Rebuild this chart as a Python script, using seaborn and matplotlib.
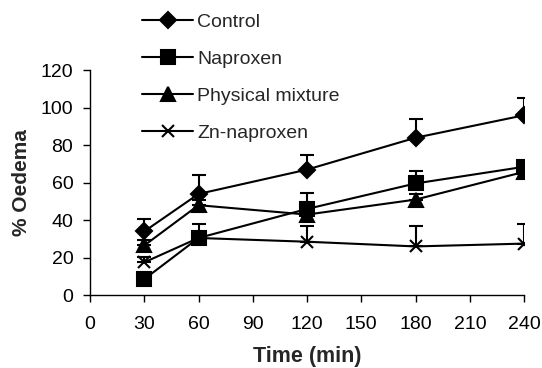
import numpy as np
import pandas as pd
import matplotlib
matplotlib.use("Agg")
import matplotlib.pyplot as plt
import seaborn as sns
from matplotlib.lines import Line2D

times = [30, 60, 120, 180, 240]
series_names = ["Control", "Naproxen", "Physical mixture", "Zn-naproxen"]
control = [34, 54, 67, 84, 96]
control_err = [6.5, 10, 8, 10, 9]
naproxen = [8.5, 30.5, 46, 59.6, 68.5]
naproxen_err = [2, 7.5, 8.5, 6.5, 2]
physical = [26.5, 48, 43, 51, 65.8]
physical_err = [3, 3, 3, 3, 2]
zn = [17.5, 30.5, 28.5, 26, 27.5]
zn_err = [3, 2, 8.5, 11, 10.5]
x_ticks = [0, 30, 60, 90, 120, 150, 180, 210, 240]
y_ticks = [0, 20, 40, 60, 80, 100, 120]

sns.set_theme(style="ticks")
plt.rcParams["font.family"] = ["Liberation Sans", "DejaVu Sans"]

values = [control, naproxen, physical, zn]
errors = [control_err, naproxen_err, physical_err, zn_err]

fig = plt.figure(figsize=(5.42, 3.68), dpi=100)
ax = fig.add_axes([0.166, 0.198, 0.801, 0.611])

marker_map = {"Control": "D", "Naproxen": "s", "Physical mixture": "^", "Zn-naproxen": "x"}
size_map = {"Control": 8.5, "Naproxen": 9.5, "Physical mixture": 9.5, "Zn-naproxen": 9}

for name, vals, errs in zip(series_names, values, errors):
    ax.errorbar(times, vals, yerr=[np.zeros(len(errs)), errs], fmt="none",
                ecolor="black", elinewidth=1.5, capsize=4.8, capthick=1.5, zorder=2)
    df = pd.DataFrame({"Time": times, "Oedema": vals})
    sns.lineplot(data=df, x="Time", y="Oedema", color="black", marker=marker_map[name],
                 markersize=size_map[name], markeredgecolor="black", markerfacecolor="black",
                 markeredgewidth=1.5, linewidth=1.5, ax=ax, zorder=3)

ax.set_xlim(0, 240)
ax.set_ylim(0, 120)
ax.set_xticks(x_ticks)
ax.set_yticks(y_ticks)
ax.tick_params(axis="both", direction="out", length=5, width=1, labelsize=14, color="black", labelcolor="black")
ax.tick_params(axis="x", pad=10)
ax.tick_params(axis="y", pad=7)
for s in ["top", "right"]:
    ax.spines[s].set_visible(False)
for s in ["left", "bottom"]:
    ax.spines[s].set_color("black")
    ax.spines[s].set_linewidth(1)
ax.set_xlabel("Time (min)", fontsize=15.5, fontweight="bold", labelpad=9.5)
ax.set_ylabel("% Oedema", fontsize=15, fontweight="bold", labelpad=7)

handles = [Line2D([], [], color="black", lw=1.5, marker=marker_map[n], markersize=size_map[n],
                  markeredgewidth=1.5, markerfacecolor="black", markeredgecolor="black")
           for n in series_names]
fig.legend(handles, series_names, loc="upper left", bbox_to_anchor=(142 / 542, 1 - 13 / 368),
           frameon=False, fontsize=14, handlelength=2.63, handletextpad=0.22,
           labelspacing=1.0, borderpad=0, borderaxespad=0)

fig.savefig("out.png", dpi=100)
